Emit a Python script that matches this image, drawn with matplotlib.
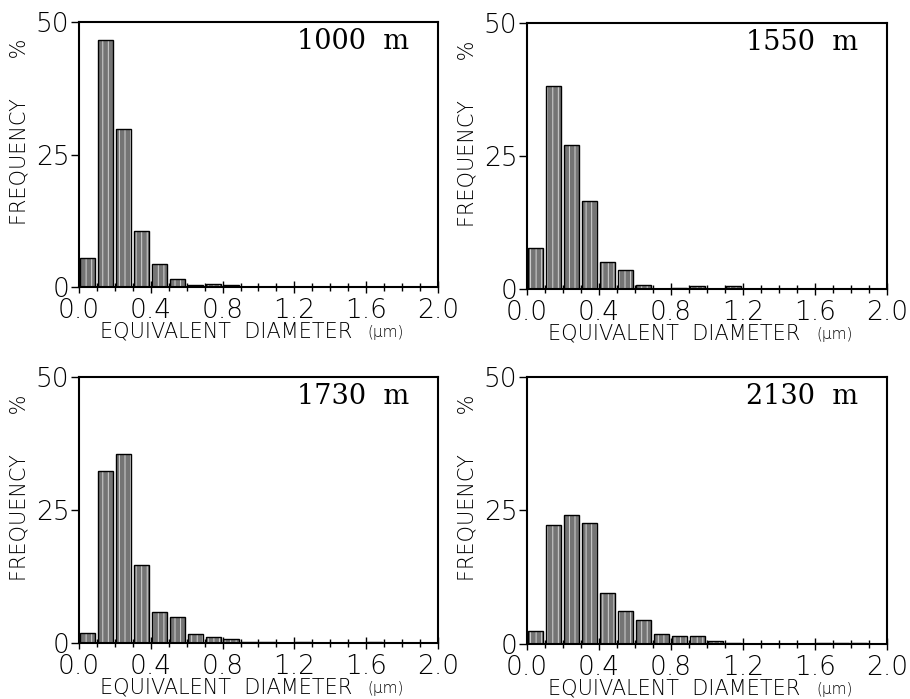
import numpy as np
import matplotlib
matplotlib.use("Agg")
import matplotlib.pyplot as plt
from matplotlib.ticker import MultipleLocator

# bin left edges, equivalent diameter (um)
bin_left = np.round(np.arange(0.0, 2.0, 0.1), 1)
bin_width = 0.1

# frequency (%) per bin at each altitude
altitudes = ["1000  m", "1550  m", "1730  m", "2130  m"]
freq_1000 = [5.5, 46.7, 29.9, 10.5, 4.3, 1.6, 0.4, 0.6, 0.4, 0, 0, 0, 0, 0, 0, 0, 0, 0, 0, 0]
freq_1550 = [7.7, 38.1, 27.0, 16.6, 5.1, 3.5, 0.8, 0, 0.2, 0.5, 0, 0.5, 0, 0, 0, 0, 0, 0, 0, 0]
freq_1730 = [1.9, 32.4, 35.5, 14.7, 5.9, 4.8, 1.6, 1.2, 0.8, 0.2, 0.2, 0, 0.2, 0, 0, 0, 0.1, 0, 0, 0]
freq_2130 = [2.5, 22.2, 24.2, 22.6, 9.6, 6.2, 4.4, 1.9, 1.5, 1.5, 0.6, 0.2, 0, 0, 0, 0, 0.2, 0.2, 0.2, 0]
all_freq = [freq_1000, freq_1550, freq_1730, freq_2130]

x_ticks = [0.0, 0.4, 0.8, 1.2, 1.6, 2.0]
y_ticks = [0, 25, 50]

plt.rcParams['font.family'] = ['DejaVu Sans']
plt.rcParams['hatch.linewidth'] = 0.7

fig = plt.figure(figsize=(9.10, 6.99), dpi=100)
fig.patch.set_facecolor('white')

# axes boxes [left, bottom, width, height]
boxes = [
    [0.0868, 0.5894, 0.3945, 0.3790],
    [0.5791, 0.5866, 0.3956, 0.3805],
    [0.0868, 0.0801, 0.3945, 0.3806],
    [0.5791, 0.0787, 0.3956, 0.3820],
]

tick_font = dict(family='DejaVu Sans', size=19, weight='light', color='black')

for box, freq, alt in zip(boxes, all_freq, altitudes):
    ax = fig.add_axes(box)
    freq = np.array(freq, dtype=float)
    keep = freq > 0
    left = bin_left[keep] + 0.005
    w = bin_width * 0.85
    # shaded fill with vertical streaks, then black outline
    ax.bar(left, freq[keep], width=w, align='edge', color='#747474',
           edgecolor='#d4d4d4', hatch='|||', linewidth=0)
    ax.bar(left, freq[keep], width=w, align='edge', fill=False,
           edgecolor='black', linewidth=1.0)

    ax.set_xlim(0, 2.0)
    ax.set_ylim(0, 50)
    ax.set_xticks(x_ticks)
    ax.set_xticklabels([f"{t:.1f}" for t in x_ticks], fontdict=tick_font)
    ax.xaxis.set_minor_locator(MultipleLocator(0.1))
    ax.set_yticks(y_ticks)
    ax.set_yticklabels([str(t) for t in y_ticks], fontdict=tick_font)
    ax.tick_params(axis='x', which='major', direction='inout', length=8, width=1.0, pad=4)
    ax.tick_params(axis='x', which='minor', direction='inout', length=6, width=1.0)
    ax.tick_params(axis='y', which='major', direction='out', length=6, width=1.0, pad=1)
    for s in ax.spines.values():
        s.set_linewidth(1.5)

    ax.text(0.92, 0.925, alt, transform=ax.transAxes, ha='right', va='center',
            family='DejaVu Serif', fontsize=19.5)

    ax.text(-0.165, 0.585, "FREQUENCY      %", transform=ax.transAxes, rotation=90,
            ha='center', va='center', fontsize=15, weight='light')
    ax.text(0.41, -0.168, "EQUIVALENT  DIAMETER", transform=ax.transAxes,
            ha='center', va='center', fontsize=15, weight='light')
    ax.text(0.855, -0.172, "(\u03bcm)", transform=ax.transAxes,
            ha='center', va='center', fontsize=11, weight='light')

fig.savefig("out.png", dpi=100, facecolor='white')
